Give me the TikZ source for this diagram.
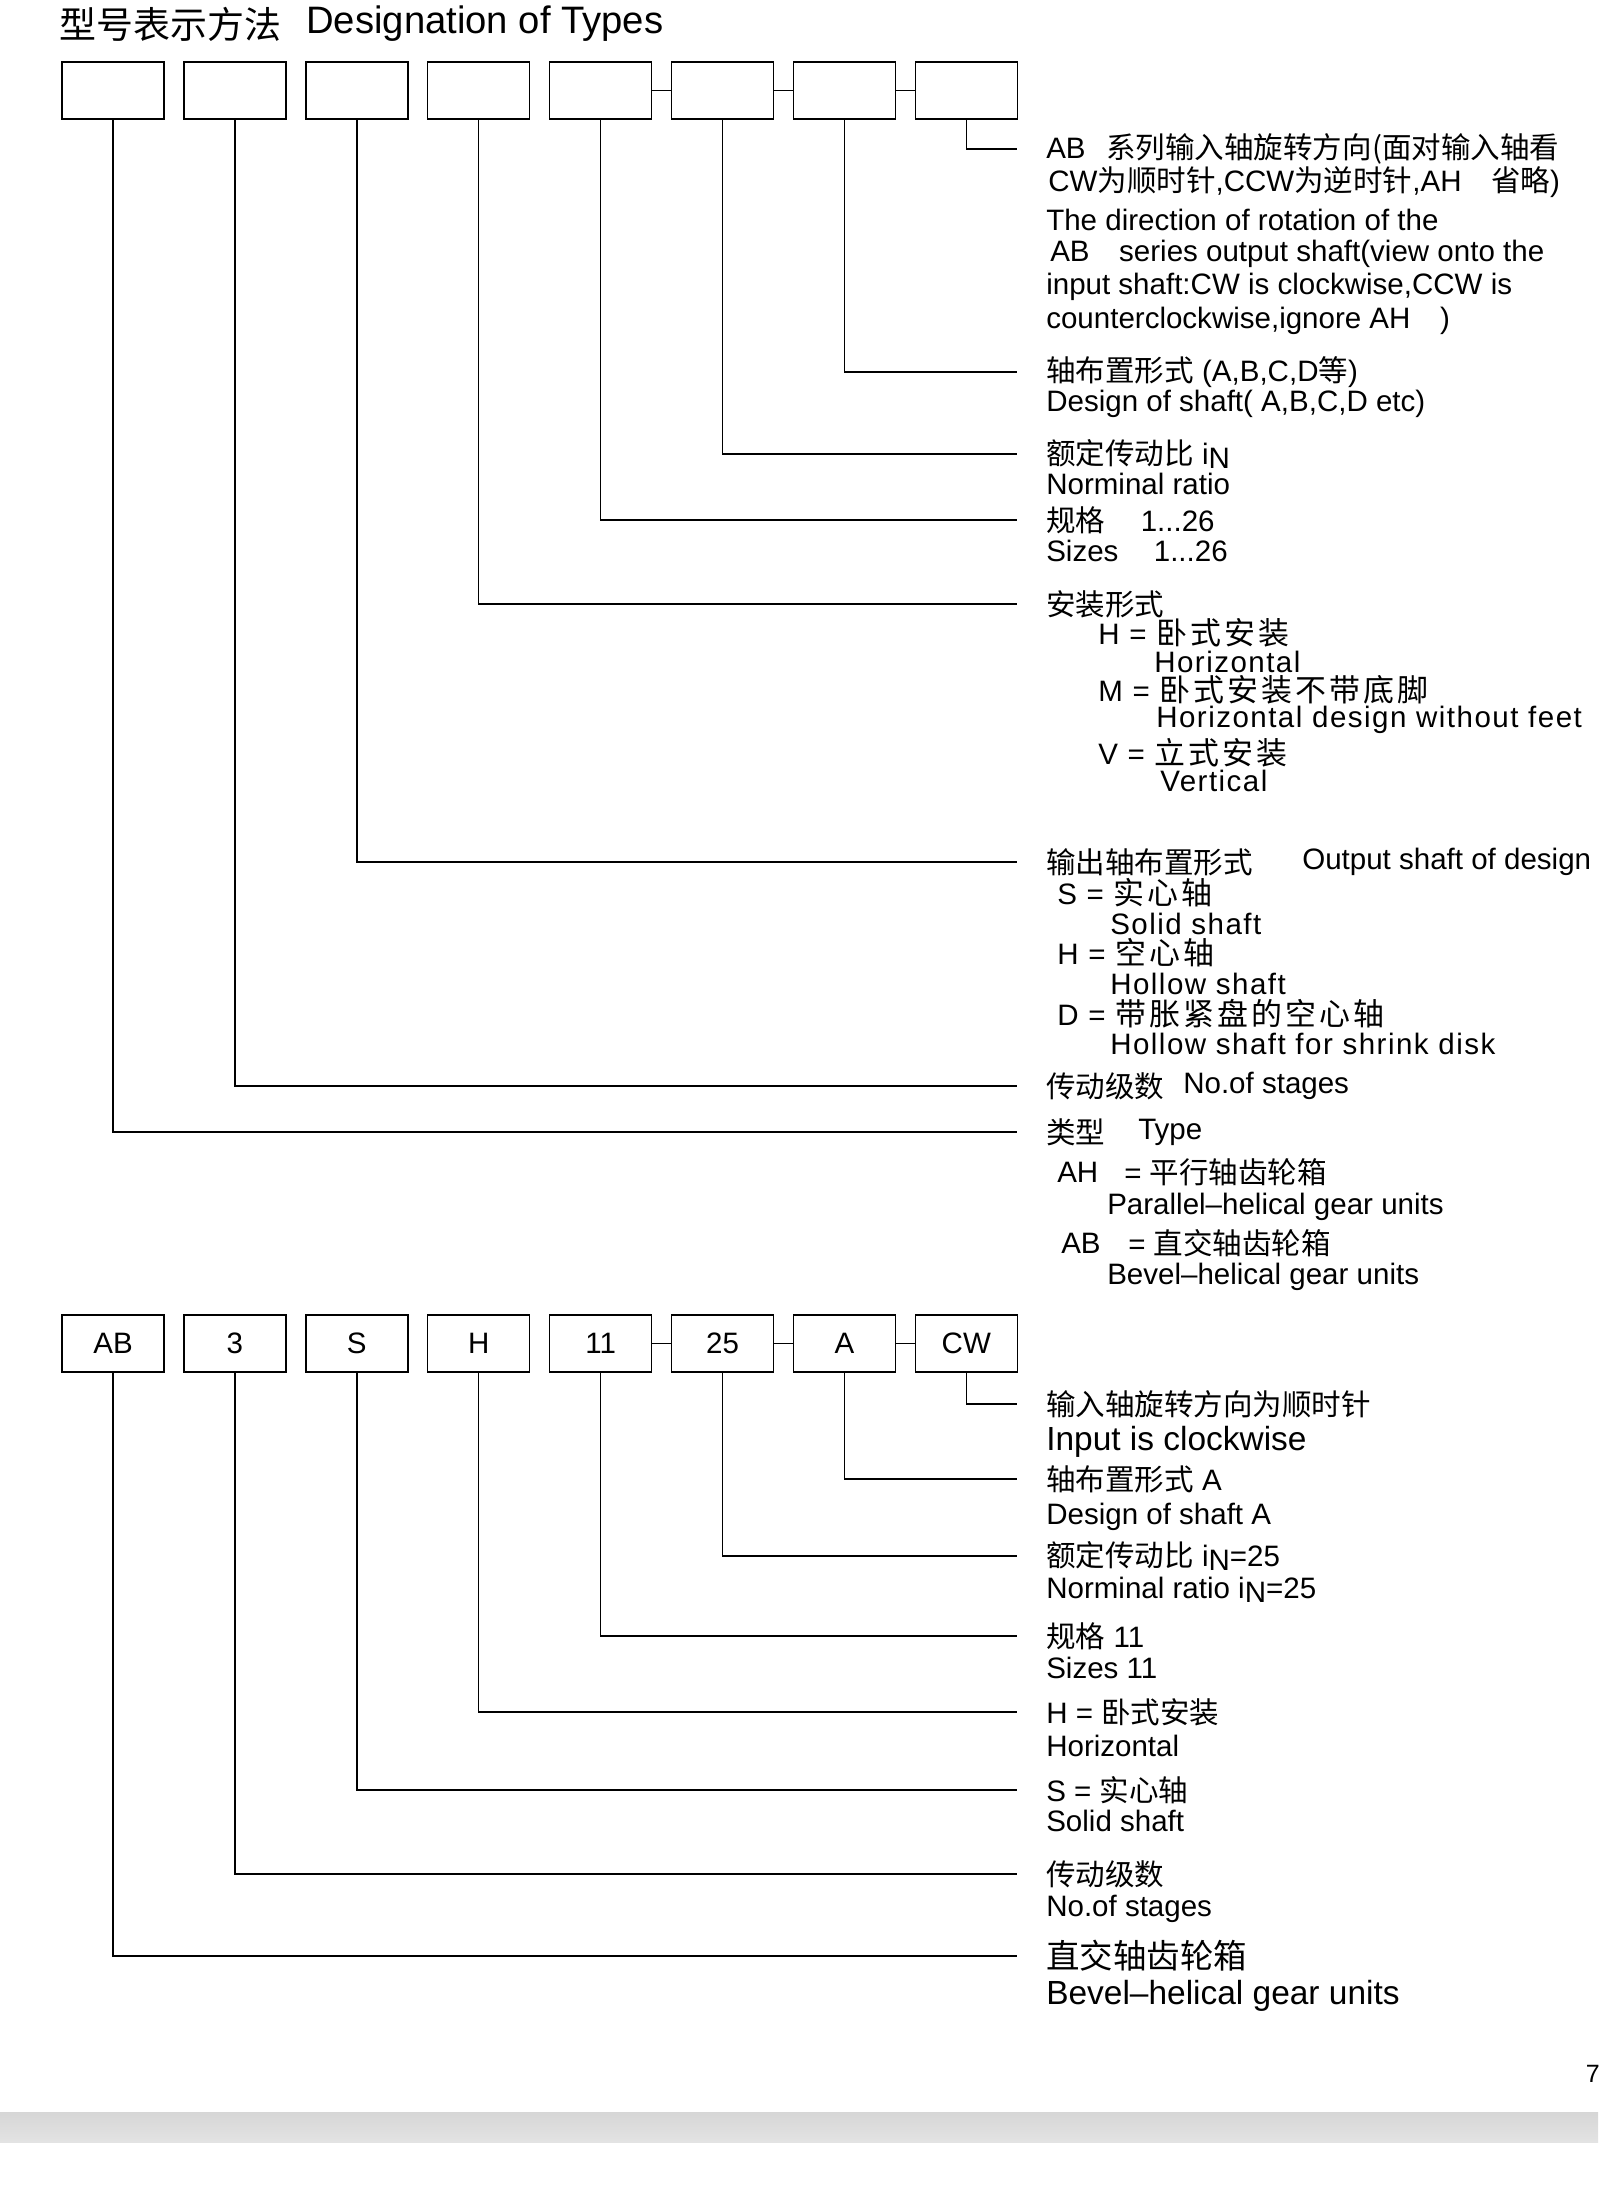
\documentclass[tikz,border=0pt]{standalone}
\usepackage{fontspec}
\setmainfont{Liberation Sans}
\newfontfamily\cjk{Noto Sans CJK SC}
\newfontfamily\cjkwide[LetterSpace=10]{Noto Sans CJK SC}
\newfontfamily\latwide[LetterSpace=5]{Liberation Sans}
\newcommand\zh[1]{{\cjk\fontsize{21}{24}\selectfont #1}}
\newcommand\zhw[1]{{\cjkwide\fontsize{22}{25}\selectfont #1}}
\newcommand\iN{i\raisebox{-0.15em}{N}}
\tikzset{
	codebox/.style={draw, line width=1.1pt, minimum width=2.55cm, minimum height=1.425cm, inner sep=0pt, font=\fontsize{21}{24}\selectfont},
	lead/.style={line width=1.1pt},
	txt/.style={anchor=west, inner sep=0pt, font=\fontsize{21}{24}\selectfont},
	txtbig/.style={anchor=west, inner sep=0pt, font=\fontsize{23.8}{27}\selectfont},
}

\begin{document}
\begin{tikzpicture}
			%%%%% START %%%%%
			\useasboundingbox (0, 0) rectangle (40, -54.925);
			
			\node[anchor=west, inner sep=0pt] (titlecn) at (1.475, -0.6) {\cjk\fontsize{26.3}{30}\selectfont 型号表示方法};
			\node[anchor=west, inner sep=0pt, font=\fontsize{27.2}{30}\selectfont] (titleen) at (7.65, -0.6) {Designation of Types};
			
			%%%%% TOP CODE %%%%%
			\foreach \i in {1,...,8}{
				\node[codebox] (t\i) at ({2.825+3.0475*(\i-1)}, -2.2625) {};
			}
			
			\node[txt] (d1) at (26.15, -3.725) {AB\hspace{0.7em}\zh{系列输入轴旋转方向(面对输入轴看}};
			\node[txt] (d2) at (26.2, -4.55) {CW\zh{为顺时针},CCW\zh{为逆时针},AH\quad\zh{省略})};
			\node[txt] (d3) at (26.15, -5.5) {The direction of rotation of the};
			\node[txt] (d4) at (26.25, -6.35) {AB\quad series output shaft(view onto the};
			\node[txt] (d5) at (26.15, -7.175) {input shaft:CW is clockwise,CCW is};
			\node[txt] (d6) at (26.15, -8.025) {counterclockwise,ignore AH\quad)};
			
			\node[txt] (s1) at (26.15, -9.3) {\zh{轴布置形式} (A,B,C,D\zh{等})};
			\node[txt] (s2) at (26.15, -10.1) {Design of shaft( A,B,C,D etc)};
			
			\node[txt] (r1) at (26.15, -11.35) {\zh{额定传动比} \iN};
			\node[txt] (r2) at (26.15, -12.1) {Norminal ratio};
			
			\node[txt] (z1) at (26.15, -13.0) {\zh{规格}\hspace{1.2em}1...26};
			\node[txt] (z2) at (26.15, -13.775) {Sizes\hspace{1.2em}1...26};
			
			\node[txt] (m0) at (26.15, -15.1) {\zh{安装形式}};
			\node[txt] (m1) at (27.45, -15.825) {\latwide H = \zhw{卧式安装}};
			\node[txt] (m2) at (28.85, -16.55) {\latwide Horizontal};
			\node[txt] (m3) at (27.45, -17.25) {\latwide M = \zhw{卧式安装不带底脚}};
			\node[txt] (m4) at (28.9, -18.0) {\latwide Horizontal design without feet};
			\node[txt] (m5) at (27.45, -18.825) {\latwide V = \zhw{立式安装}};
			\node[txt] (m6) at (29.0, -19.525) {\latwide Vertical};
			
			\node[txt] (o0) at (26.15, -21.55) {\zh{输出轴布置形式}};
			\node[txt] (o0e) at (32.55, -21.55) {Output shaft of design};
			\node[txt] (o1) at (26.425, -22.325) {\latwide S = \zhw{实心轴}};
			\node[txt] (o2) at (27.75, -23.1) {\latwide Solid shaft};
			\node[txt] (o3) at (26.425, -23.825) {\latwide H = \zhw{空心轴}};
			\node[txt] (o4) at (27.75, -24.6) {\latwide Hollow shaft};
			\node[txt] (o5) at (26.425, -25.35) {\latwide D = \zhw{带胀紧盘的空心轴}};
			\node[txt] (o6) at (27.75, -26.1) {\latwide Hollow shaft for shrink disk};
			
			\node[txt] (g1) at (26.15, -27.15) {\zh{传动级数}};
			\node[txt] (g1e) at (29.575, -27.15) {No.of stages};
			
			\node[txt] (y1) at (26.15, -28.3) {\zh{类型}};
			\node[txt] (y1e) at (28.45, -28.3) {Type};
			\node[txt] (y2) at (26.425, -29.3) {AH};
			\node[txt] (y2e) at (28.1, -29.3) {= \zh{平行轴齿轮箱}};
			\node[txt] (y3) at (27.675, -30.175) {Parallel–helical gear units};
			\node[txt] (y4) at (26.525, -31.075) {AB};
			\node[txt] (y4e) at (28.2, -31.075) {= \zh{直交轴齿轮箱}};
			\node[txt] (y5) at (27.675, -31.925) {Bevel–helical gear units};
			
			\foreach \i/\j in {5/6, 6/7, 7/8}
				\draw[lead] (t\i) -- (t\j);
			\foreach \i/\n in {8/d1, 7/s1, 6/r1, 5/z1, 4/m0, 3/o0, 2/g1, 1/y1}
				\draw[lead] (t\i.south) |- ([xshift=-0.725cm]\n.west);
			
			%%%%% EXAMPLE CODE %%%%%
			\foreach \lab [count=\i] in {AB, 3, S, H, 11, 25, A, CW}{
				\node[codebox] (b\i) at ({2.825+3.0475*(\i-1)}, -33.5875) {\lab};
			}
			
			\node[txt] (e1) at (26.15, -35.1) {\zh{输入轴旋转方向为顺时针}};
			\node[txtbig] (e2) at (26.15, -36.05) {Input is clockwise};
			\node[txt] (e3) at (26.15, -36.975) {\zh{轴布置形式} A};
			\node[txt] (e4) at (26.15, -37.925) {Design of shaft A};
			\node[txt] (e5) at (26.15, -38.9) {\zh{额定传动比} \iN=25};
			\node[txt] (e6) at (26.15, -39.75) {Norminal ratio \iN=25};
			\node[txt] (e7) at (26.15, -40.9) {\zh{规格} 11};
			\node[txt] (e8) at (26.15, -41.7) {Sizes 11};
			\node[txt] (e9) at (26.15, -42.8) {H = \zh{卧式安装}};
			\node[txt] (e10) at (26.15, -43.65) {Horizontal};
			\node[txt] (e11) at (26.15, -44.75) {S = \zh{实心轴}};
			\node[txt] (e12) at (26.15, -45.525) {Solid shaft};
			\node[txt] (e13) at (26.15, -46.85) {\zh{传动级数}};
			\node[txt] (e14) at (26.15, -47.725) {No.of stages};
			\node[txtbig] (e15) at (26.15, -48.9) {{\cjk 直交轴齿轮箱}};
			\node[txtbig] (e16) at (26.15, -49.9) {Bevel–helical gear units};
			
			\foreach \i/\j in {5/6, 6/7, 7/8}
				\draw[lead] (b\i) -- (b\j);
			\foreach \i/\n in {8/e1, 7/e3, 6/e5, 5/e7, 4/e9, 3/e11, 2/e13, 1/e15}
				\draw[lead] (b\i.south) |- ([xshift=-0.725cm]\n.west);
			
			%%%%% FOOTER %%%%%
			\node[anchor=east, inner sep=0pt, font=\fontsize{17.8}{20}\selectfont] (page) at (40, -51.85) {7};
			\shade[top color=black!16, bottom color=black!11] (0, -52.8) rectangle (39.95, -53.55);
			
			%%%%% END %%%%%
\end{tikzpicture}
\end{document}
